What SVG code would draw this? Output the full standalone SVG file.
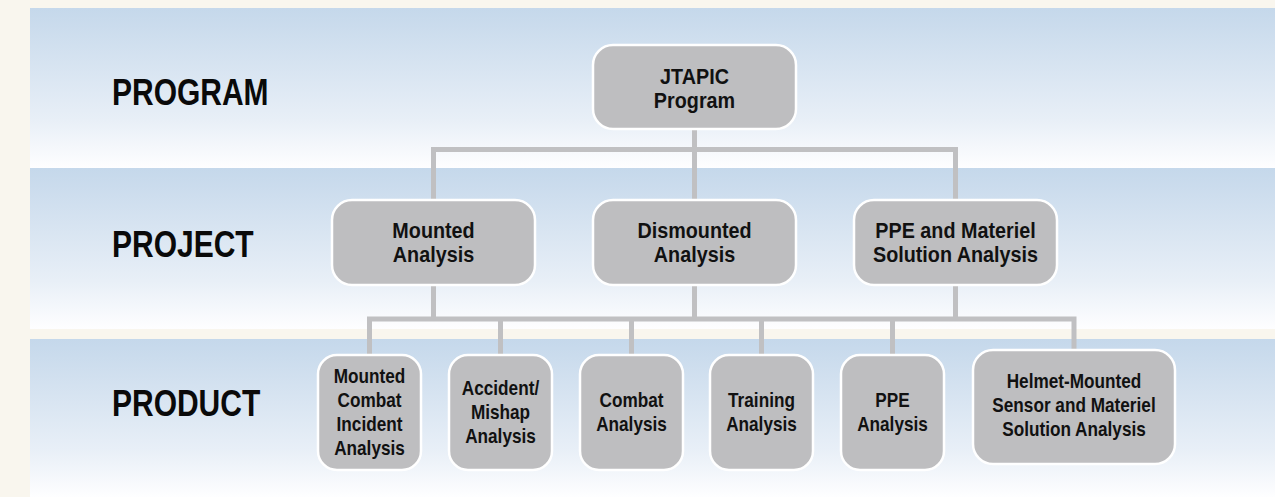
<svg xmlns="http://www.w3.org/2000/svg" width="1275" height="497" viewBox="0 0 1275 497">
  <defs>
    <linearGradient id="band" x1="0" y1="0" x2="0" y2="1">
      <stop offset="0" stop-color="#C5D8EB"/>
      <stop offset="0.7" stop-color="#E8EFF7"/>
      <stop offset="1" stop-color="#FEFEFF"/>
    </linearGradient>
    <style>
      .band { fill: url(#band); }
      .box { fill: #BEBEC0; stroke: #FFFFFF; stroke-width: 2.5; }
      .conn { fill: none; stroke: #C0C0C2; stroke-width: 5; stroke-linejoin: miter; stroke-linecap: butt; }
      .lbl { font-family: "Liberation Sans", Arial, sans-serif; font-weight: bold; font-size: 37.5px; fill: #0A0A0A; }
      .t22 { font-family: "Liberation Sans", Arial, sans-serif; font-weight: bold; font-size: 21.5px; fill: #111111; text-anchor: middle; }
      .t19 { font-family: "Liberation Sans", Arial, sans-serif; font-weight: bold; font-size: 20px; fill: #111111; text-anchor: middle; }
    </style>
  </defs>

  <rect x="0" y="0" width="1275" height="497" fill="#F9F6EE"/>
  <g id="bands">
    <rect class="band" x="30" y="8" width="1245" height="160"/>
    <rect class="band" x="30" y="168" width="1245" height="161"/>
    <rect class="band" x="30" y="339" width="1245" height="158"/>
  </g>

  <g id="row-labels">
    <text class="lbl" transform="translate(112 0) scale(0.8 1)" x="0" y="105">PROGRAM</text>
    <text class="lbl" transform="translate(112 0) scale(0.8 1)" x="0" y="257">PROJECT</text>
    <text class="lbl" transform="translate(112 0) scale(0.8 1)" x="0" y="416">PRODUCT</text>
  </g>

  <g id="connectors">
    <path class="conn" d="M694.5,129 V201"/>
    <path class="conn" d="M433.5,201 V149.5 H955.5 V201"/>
    <path class="conn" d="M433.5,284 V319"/>
    <path class="conn" d="M694.5,284 V319"/>
    <path class="conn" d="M955.5,284 V319"/>
    <path class="conn" d="M369.5,356 V319 H1074 V351"/>
    <path class="conn" d="M500.5,319 V356"/>
    <path class="conn" d="M631.5,319 V356"/>
    <path class="conn" d="M761.5,319 V356"/>
    <path class="conn" d="M892.5,319 V356"/>
  </g>

  <g id="jtapic">
    <rect class="box" x="593" y="45" width="203" height="84" rx="20"/>
    <g transform="translate(694.5 0) scale(0.92 1)">
      <text class="t22" x="0" y="84.5">JTAPIC</text>
      <text class="t22" x="0" y="108.5">Program</text>
    </g>
  </g>

  <g id="mounted-analysis">
    <rect class="box" x="332" y="200" width="203" height="85" rx="20"/>
    <g transform="translate(433.5 0) scale(0.92 1)">
      <text class="t22" x="0" y="238.5">Mounted</text>
      <text class="t22" x="0" y="262.5">Analysis</text>
    </g>
  </g>

  <g id="dismounted-analysis">
    <rect class="box" x="593" y="200" width="203" height="85" rx="20"/>
    <g transform="translate(694.5 0) scale(0.92 1)">
      <text class="t22" x="0" y="238.5">Dismounted</text>
      <text class="t22" x="0" y="262.5">Analysis</text>
    </g>
  </g>

  <g id="ppe-materiel-analysis">
    <rect class="box" x="854" y="200" width="203" height="85" rx="20"/>
    <g transform="translate(955.5 0) scale(0.92 1)">
      <text class="t22" x="0" y="238.5">PPE and Materiel</text>
      <text class="t22" x="0" y="262.5">Solution Analysis</text>
    </g>
  </g>

  <g id="mounted-combat-incident">
    <rect class="box" x="318" y="355" width="103" height="115" rx="19"/>
    <g transform="translate(369.5 0) scale(0.86 1)">
      <text class="t19" x="0" y="383">Mounted</text>
      <text class="t19" x="0" y="407">Combat</text>
      <text class="t19" x="0" y="431">Incident</text>
      <text class="t19" x="0" y="455">Analysis</text>
    </g>
  </g>

  <g id="accident-mishap">
    <rect class="box" x="449" y="355" width="103" height="115" rx="19"/>
    <g transform="translate(500.5 0) scale(0.86 1)">
      <text class="t19" x="0" y="395">Accident/</text>
      <text class="t19" x="0" y="419">Mishap</text>
      <text class="t19" x="0" y="443">Analysis</text>
    </g>
  </g>

  <g id="combat-analysis">
    <rect class="box" x="580" y="355" width="103" height="115" rx="19"/>
    <g transform="translate(631.5 0) scale(0.86 1)">
      <text class="t19" x="0" y="407">Combat</text>
      <text class="t19" x="0" y="431">Analysis</text>
    </g>
  </g>

  <g id="training-analysis">
    <rect class="box" x="710" y="355" width="103" height="115" rx="19"/>
    <g transform="translate(761.5 0) scale(0.86 1)">
      <text class="t19" x="0" y="407">Training</text>
      <text class="t19" x="0" y="431">Analysis</text>
    </g>
  </g>

  <g id="ppe-analysis">
    <rect class="box" x="841" y="355" width="103" height="115" rx="19"/>
    <g transform="translate(892.5 0) scale(0.86 1)">
      <text class="t19" x="0" y="407">PPE</text>
      <text class="t19" x="0" y="431">Analysis</text>
    </g>
  </g>

  <g id="helmet-mounted-sensor">
    <rect class="box" x="973" y="350" width="202" height="114" rx="20"/>
    <g transform="translate(1074 0) scale(0.86 1)">
      <text class="t19" x="0" y="388">Helmet-Mounted</text>
      <text class="t19" x="0" y="412">Sensor and Materiel</text>
      <text class="t19" x="0" y="436">Solution Analysis</text>
    </g>
  </g>
</svg>
